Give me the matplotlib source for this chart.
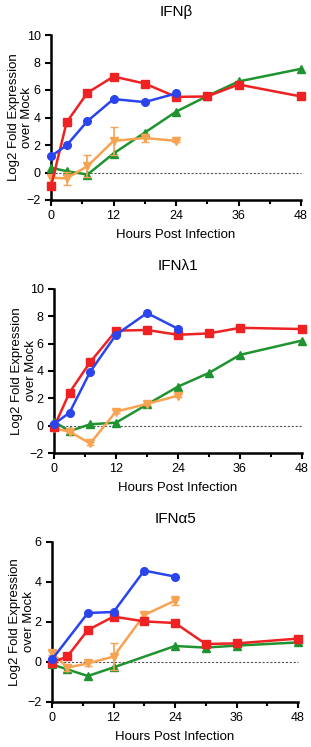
import matplotlib
matplotlib.use('Agg')
import matplotlib.pyplot as plt
from matplotlib.ticker import MultipleLocator

plt.rcParams['font.family'] = ['Liberation Sans', 'DejaVu Sans']

hours = [0, 3, 7, 12, 18, 24, 30, 36, 48]
hours_24 = [0, 3, 7, 12, 18, 24]

# IFNb
b_red = [-1.0, 3.65, 5.8, 6.98, 6.47, 5.5, 5.53, 6.4, 5.53]
b_blue = [1.18, 1.98, 3.74, 5.34, 5.12, 5.75]
b_green = [0.34, 0.1, -0.15, 1.38, 2.9, 4.42, 5.56, 6.62, 7.54]
b_orange = [-0.38, -0.43, 0.46, 2.3, 2.51, 2.3]
b_orange_err = [0.3, 0.45, 0.8, 1.0, 0.3, 0.1]

# IFNl1
l_red = [-0.1, 2.42, 4.65, 6.95, 7.0, 6.65, 6.75, 7.16, 7.07]
l_blue = [0.12, 0.95, 3.94, 6.65, 8.24, 7.09]
l_green = [0.3, -0.4, 0.1, 0.22, 1.55, 2.86, 3.86, 5.18, 6.23]
l_orange = [-0.2, -0.44, -1.3, 1.03, 1.59, 2.2]
l_orange_err = [0.1, 0.1, 0.1, 0.1, 0.1, 0.1]

# IFNa5
a_red = [-0.03, 0.28, 1.6, 2.27, 2.03, 1.95, 0.9, 0.93, 1.17]
a_blue_hours = [0, 7, 12, 18, 24]
a_blue = [0.13, 2.45, 2.5, 4.57, 4.27]
a_green_hours = [0, 3, 7, 12, 24, 30, 36, 48]
a_green = [-0.12, -0.37, -0.7, -0.27, 0.8, 0.72, 0.82, 0.98]
a_orange = [0.47, -0.28, -0.07, 0.27, 2.35, 3.07]
a_orange_err = [0.1, 0.15, 0.12, 0.68, 0.1, 0.22]

RED = '#ee2222'
BLUE = '#2a44ee'
GREEN = '#1f9330'
ORANGE = '#f7a352'

panels = [
    ('IFNβ', [51, 301, 35, 200], (-2, 10), [-2, 0, 2, 4, 6, 8, 10],
     (hours, b_red), (hours_24, b_blue), (hours, b_green), (b_orange, b_orange_err)),
    ('IFNλ1', [54, 302, 289, 453], (-2, 10), [-2, 0, 2, 4, 6, 8, 10],
     (hours, l_red), (hours_24, l_blue), (hours, l_green), (l_orange, l_orange_err)),
    ('IFNα5', [52, 298, 542, 702], (-2, 6), [-2, 0, 2, 4, 6],
     (hours, a_red), (a_blue_hours, a_blue), (a_green_hours, a_green), (a_orange, a_orange_err)),
]

W, H = 311, 747
fig = plt.figure(figsize=(W / 100, H / 100), dpi=100)

for title, (x0, x1, y0, y1), ylim, yticks, red, blue, green, orange in panels:
    ax = fig.add_axes([x0 / W, 1 - y1 / H, (x1 - x0) / W, (y1 - y0) / H])
    ax.axhline(0, color='#555555', lw=0.8, ls=(0, (2, 1.5)), zorder=1)
    ax.plot(*green, color=GREEN, marker='^', ms=5.5, lw=1.8, zorder=3)
    ax.errorbar(hours_24, orange[0], yerr=orange[1], color=ORANGE, marker='v',
                ms=5.5, lw=1.8, capsize=3, elinewidth=1.2, zorder=4)
    ax.plot(*red, color=RED, marker='s', ms=5.5, lw=1.8, zorder=5)
    ax.plot(*blue, color=BLUE, marker='o', ms=5.5, lw=1.8, zorder=6)
    ax.set_xlim(0, 48)
    ax.set_ylim(*ylim)
    ax.set_xticks([0, 12, 24, 36, 48])
    ax.xaxis.set_minor_locator(MultipleLocator(6))
    ax.set_yticks(yticks)
    for s in ['top', 'right']:
        ax.spines[s].set_visible(False)
    for s in ['left', 'bottom']:
        ax.spines[s].set_linewidth(1.8)
    ax.tick_params(which='both', direction='out', width=1.5, labelsize=9)
    ax.tick_params(which='major', length=4)
    ax.tick_params(which='minor', length=3)
    ax.set_xlabel('Hours Post Infection', fontsize=9.5, labelpad=5)
    ax.set_ylabel('Log2 Fold Expression\nover Mock', fontsize=9.5)
    ax.yaxis.set_label_coords(-0.07, 0.5)
    ax.set_title(title, fontsize=11, pad=14)
    for m in ax.lines:
        m.set_clip_on(False)

fig.savefig('out.png', dpi=100)
